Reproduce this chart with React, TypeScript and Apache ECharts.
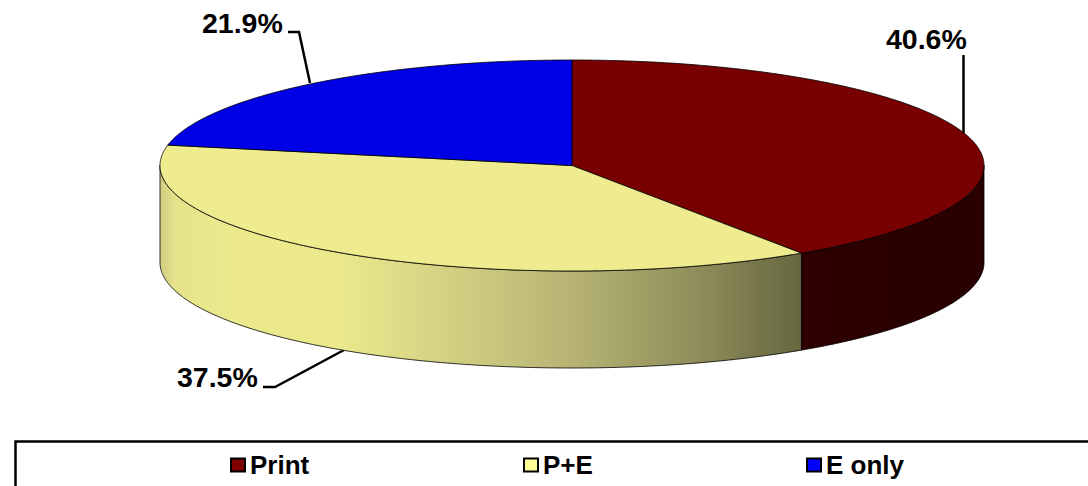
import React, { useEffect, useRef } from "react";
import * as echarts from "echarts";

const categories = ["Print", "P+E", "E only"];
const shares = [40.6, 37.5, 21.9];
const topColors = ["#780000", "#eeec8e", "#0000e6"];
const legendColors = ["#800000", "#ffff99", "#0000ff"];

const CX = 572;
const CY = 165.5;
const RX = 412;
const RY = 105.5;
const DEPTH = 97;
const FONT = '"Liberation Sans", Arial, sans-serif';
const OUTLINE = "rgba(0,0,0,0.8)";

const rimPoint = (deg: number, dy = 0): number[] => {
  const r = (deg * Math.PI) / 180;
  return [CX + RX * Math.sin(r), CY - RY * Math.cos(r) + dy];
};

const arcPoints = (from: number, to: number, dy = 0): number[][] => {
  const n = Math.max(2, Math.ceil(Math.abs(to - from) * 2));
  const pts: number[][] = [];
  for (let k = 0; k <= n; k++) pts.push(rimPoint(from + ((to - from) * k) / n, dy));
  return pts;
};

const wallFills: any[] = [
  new echarts.graphic.LinearGradient(0, 0, 1, 0, [
    { offset: 0, color: "#2e0000" },
    { offset: 1, color: "#280000" },
  ]),
  new echarts.graphic.LinearGradient(0, 0, 1, 0, [
    { offset: 0, color: "#cfcd82" },
    { offset: 0.025, color: "#e6e48b" },
    { offset: 0.12, color: "#ecea8d" },
    { offset: 0.28, color: "#ebe98c" },
    { offset: 0.43, color: "#d6d384" },
    { offset: 0.62, color: "#bab776" },
    { offset: 0.84, color: "#8f8d5a" },
    { offset: 1, color: "#666640" },
  ]),
  "#00006a",
];

const sliceSeries = (index: number) => ({
  type: "custom",
  name: categories[index],
  coordinateSystem: "none",
  silent: true,
  data: [[shares[index]]],
  renderItem: (_params: any, api: any) => {
    const total = shares.reduce((a, b) => a + b, 0);
    const before = shares.slice(0, index).reduce((a, b) => a + b, 0);
    const start = (before / total) * 360;
    const end = start + (api.value(0) / total) * 360;
    const children: any[] = [];
    const wallFrom = Math.max(start, 90);
    const wallTo = Math.min(end, 270);
    if (wallTo > wallFrom) {
      children.push({
        type: "polygon",
        shape: {
          points: [
            ...arcPoints(wallFrom, wallTo),
            ...arcPoints(wallTo, wallFrom, DEPTH),
          ],
        },
        style: { fill: wallFills[index], stroke: OUTLINE, lineWidth: 1 },
      });
    }
    children.push({
      type: "polygon",
      shape: { points: [[CX, CY], ...arcPoints(start, end)] },
      style: { fill: topColors[index], stroke: OUTLINE, lineWidth: 1 },
    });
    return { type: "group", children };
  },
});

const percentText = (v: number) => `${v.toFixed(1)}%`;

const valueLabel = (text: string, x: number, y: number) => ({
  type: "text",
  x,
  y,
  style: {
    text,
    fill: "#000",
    font: `bold 28.5px ${FONT}`,
    textAlign: "left",
    textVerticalAlign: "middle",
  },
});

const leader = (points: number[][]) => ({
  type: "polyline",
  shape: { points },
  style: { stroke: "#000", lineWidth: 2.5, fill: "none" },
});

const legendAt = (index: number, left: number) => ({
  show: true,
  left,
  top: 452,
  padding: 0,
  itemWidth: 14,
  itemHeight: 13,
  selectedMode: false,
  data: [
    {
      name: categories[index],
      icon: "rect",
      itemStyle: {
        color: legendColors[index],
        borderColor: "#000",
        borderWidth: 2,
      },
    },
  ],
  textStyle: {
    color: "#000",
    fontFamily: FONT,
    fontWeight: "bold",
    fontSize: 26,
  },
});

export default function App() {
  const ref = useRef<HTMLDivElement>(null);
  useEffect(() => {
    document.body.style.margin = "0";
    document.body.style.overflow = "hidden";
    const chart = echarts.init(ref.current!, null, { renderer: "svg" });
    chart.setOption({
      animation: false,
      backgroundColor: "#fff",
      legend: [legendAt(0, 230), legendAt(1, 523), legendAt(2, 806)],
      series: categories.map((_, i) => sliceSeries(i)),
      graphic: [
        valueLabel(percentText(shares[2]), 202, 23),
        leader([[288, 32], [299, 32], [310, 83]]),
        valueLabel(percentText(shares[0]), 886, 39),
        leader([[963.5, 55], [963.5, 135]]),
        valueLabel(percentText(shares[1]), 177, 377),
        leader([[263, 387], [275, 387], [344, 350]]),
        {
          type: "polyline",
          shape: { points: [[15.5, 486], [15.5, 441.5], [1088, 441.5]] },
          style: { stroke: "#000", lineWidth: 2.5, fill: "none" },
        },
      ],
    });
    return () => chart.dispose();
  }, []);
  return <div ref={ref} style={{ width: 1088, height: 486 }} />;
}
